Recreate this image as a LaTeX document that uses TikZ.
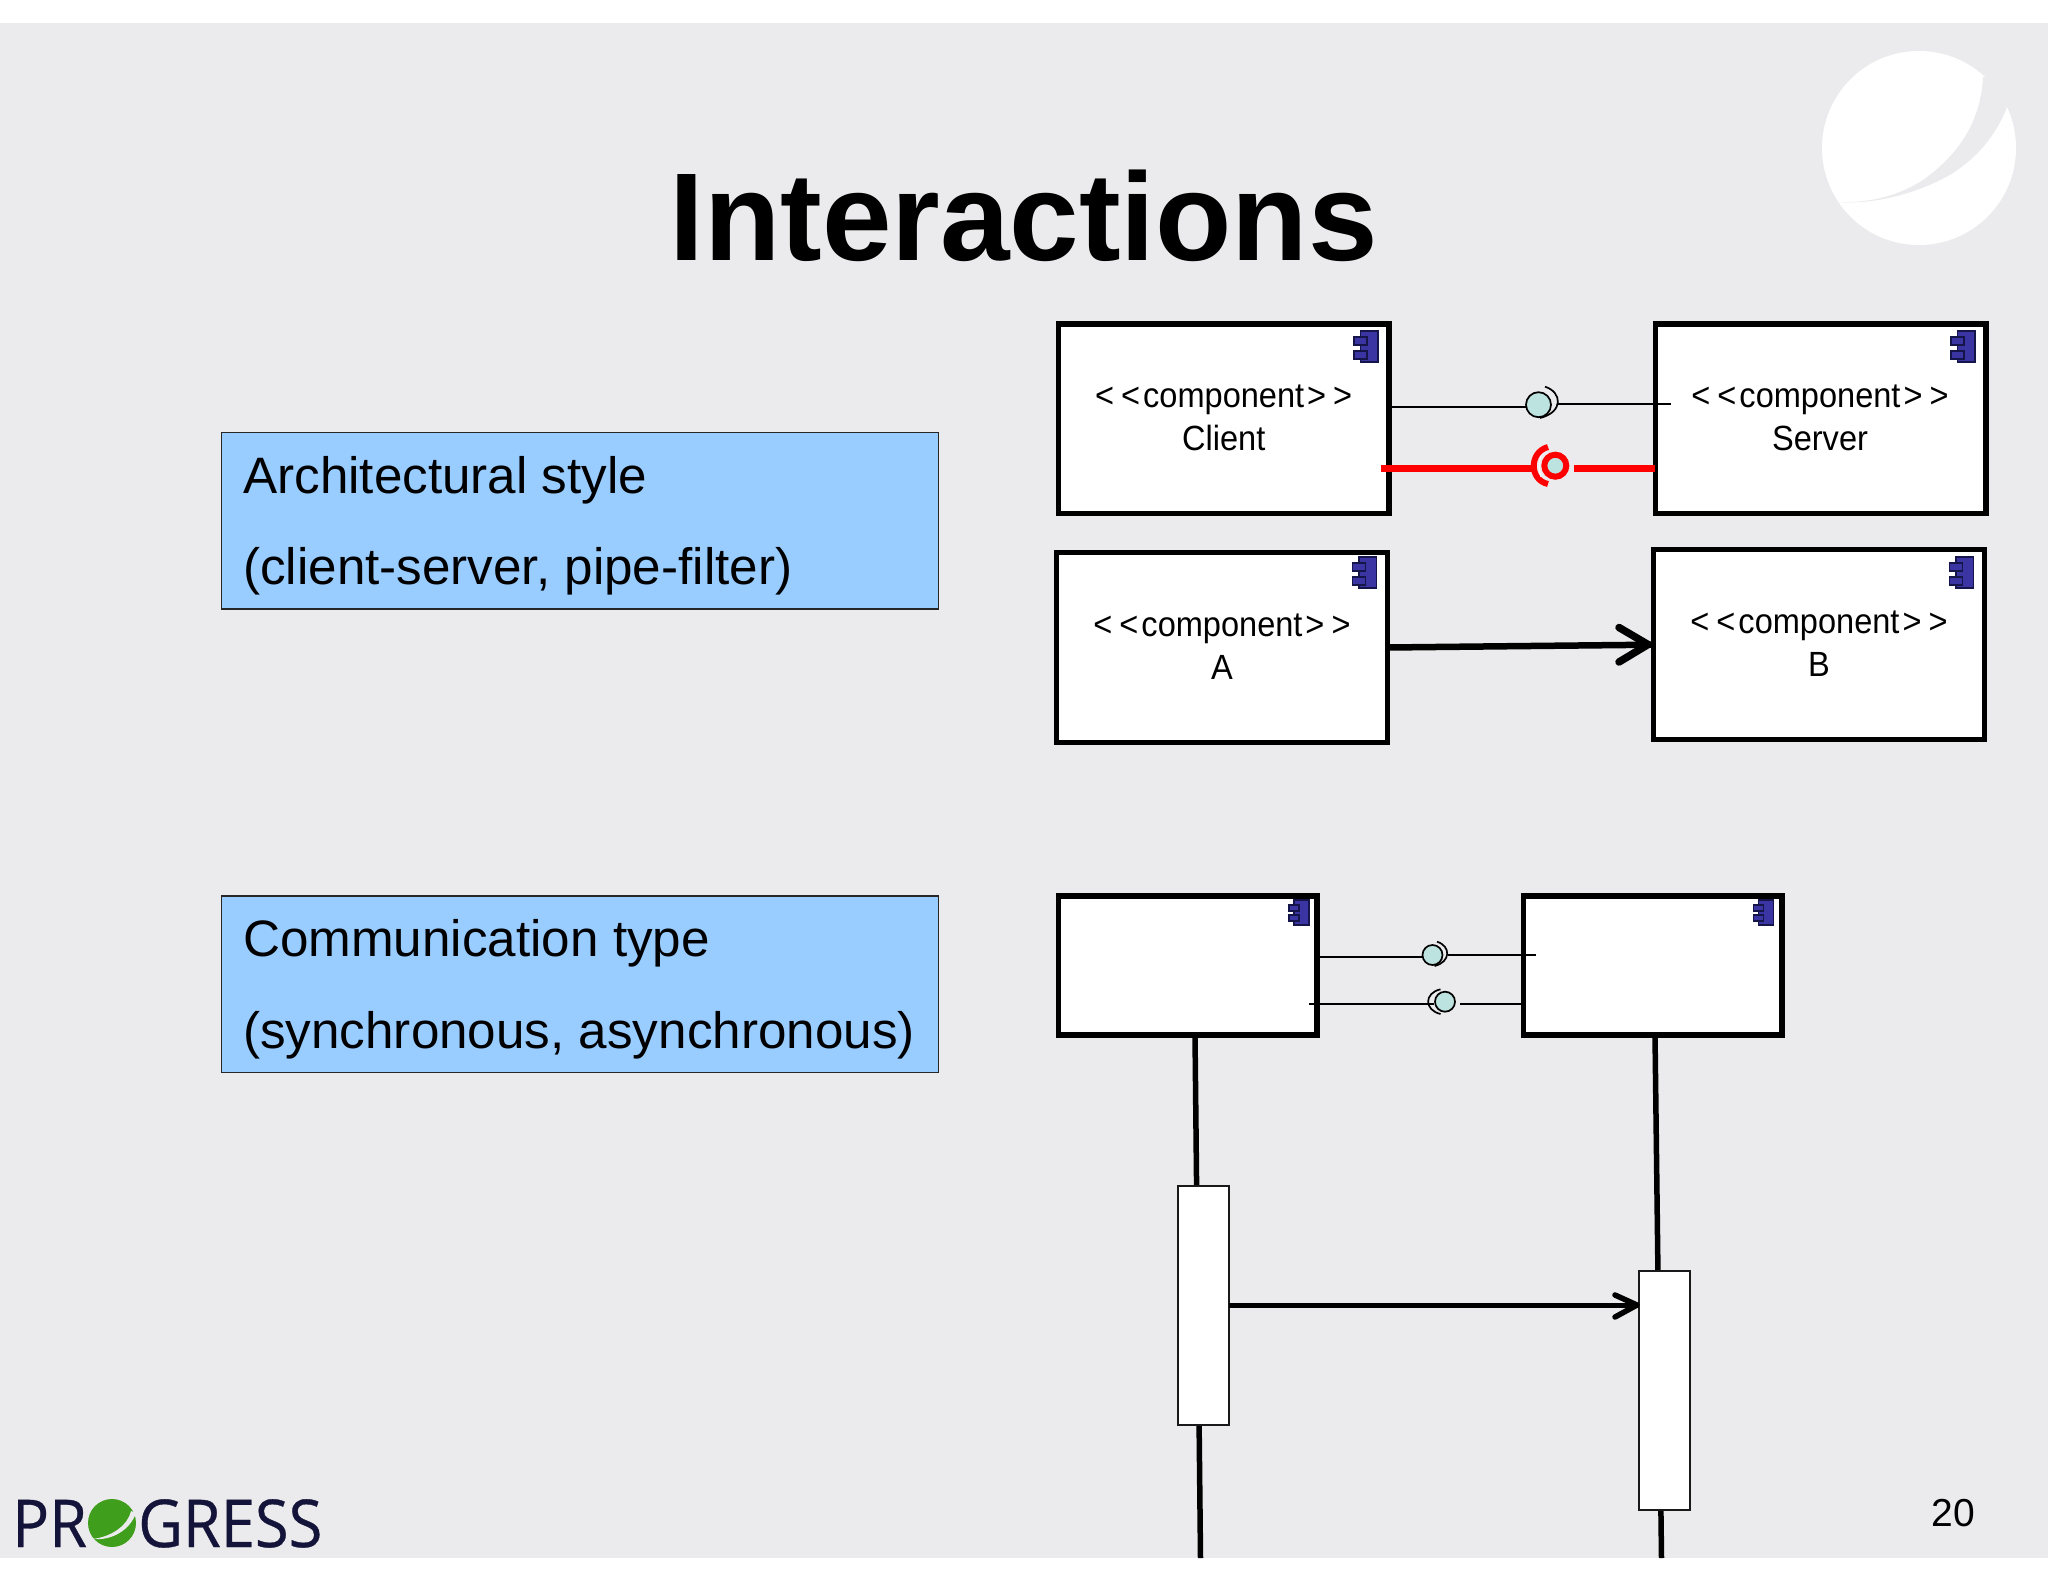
\documentclass[tikz,border=0pt]{standalone}
\usepackage{fontspec}
\setmainfont{Liberation Sans}
\newfontfamily\logofont[FakeStretch=0.93,FakeBold=0.5]{Open Sans}
\newfontfamily\cmpfont[FakeStretch=0.93]{Liberation Sans}
\definecolor{slidebg}{HTML}{EBEBED}
\definecolor{stylebg}{HTML}{99CCFF}
\definecolor{iconblue}{HTML}{3A35A3}
\definecolor{iconline}{HTML}{15154A}
\definecolor{balltint}{HTML}{BCE3E0}
\definecolor{logoink}{HTML}{14143A}
\definecolor{logogreen}{HTML}{3F9E1C}
\newcommand{\compicon}[2]{%
  \begin{scope}[shift={(#1,#2)}]
    \filldraw[iconpart] (6.5,0) rectangle (24,31);
    \filldraw[iconpart] (0,6) rectangle (13,14);
    \filldraw[iconpart] (0,20) rectangle (13,28);
  \end{scope}}
\newcommand{\compiconsmall}[2]{%
  \begin{scope}[shift={(#1,#2)}]
    \filldraw[iconpart] (5,0) rectangle (20,25);
    \filldraw[iconpart] (0,5) rectangle (10,11);
    \filldraw[iconpart] (0,15) rectangle (10,21);
  \end{scope}}
\newcommand{\cmptext}{<\kern7pt<\kern3pt component\kern3pt>\kern7pt>}
\tikzset{
  comp/.style={draw=black,fill=white,line width=5.5pt,minimum width=#1,inner sep=0pt,outer sep=0pt,rectangle},
  stylebox/.style={draw=black!85,line width=1.5pt,fill=stylebg,minimum width=717pt,minimum height=176.5pt,inner sep=0pt,outer sep=0pt},
  styletext/.style={font=\fontsize{51.2}{51.2}\selectfont,anchor=base west,inner sep=0pt},
  cmplabel/.style={font=\cmpfont\fontsize{35}{35}\selectfont,inner sep=0pt},
  iconpart/.style={fill=iconblue,draw=iconline,line width=1.2pt},
  thin link/.style={draw=black,line width=1.7pt},
  ball/.style={circle,draw=black,line width=1.7pt,fill=balltint,minimum size=#1,inner sep=0pt,outer sep=0pt},
  socket/.style={draw=black,line width=1.7pt},
  redlink/.style={draw=red,line width=6.5pt},
  lifeline/.style={draw=black,line width=5.5pt},
  activation/.style={draw=black!90,line width=1.6pt,fill=white,minimum width=51pt,minimum height=239pt,inner sep=0pt,outer sep=0pt},
  openhead/.style={draw=black,line cap=round,line join=round}
}
\begin{document}
\begin{tikzpicture}[x=1pt,y=-1pt]
\useasboundingbox (0,0) rectangle (2048,1582);
\fill[white] (0,0) rectangle (2048,1582);
\fill[slidebg] (0,22.5) rectangle (2048,1558);
% corner emblem
\fill[white] (1919,148) circle[radius=97];
\fill[slidebg] (1983,77) .. controls (1981,115) and (1965,150) .. (1923,180)
  .. controls (1895,198) and (1865,203) .. (1838,202)
  .. controls (1880,205) and (1925,190) .. (1953,173)
  .. controls (1980,155) and (1995,135) .. (2006,110)
  -- (2012,80) -- cycle;
% title
\node[font=\fontsize{125}{125}\selectfont\bfseries,inner sep=0pt] (title) at (1023.5,216) {Interactions};
% blue boxes
\node[stylebox] (archbox) at (580.2,520.6) {};
\node[styletext] (arch1) at (243,493) {Architectural style};
\node[styletext] (arch2) at (243,584) {(client-server, pipe-filter)};
\node[stylebox] (commbox) at (580.2,984) {};
\node[styletext] (comm1) at (243,956) {Communication type};
\node[styletext] (comm2) at (243,1048) {(synchronous, asynchronous)};
% component boxes
\node[comp=330.5pt,minimum height=189.5pt] (client) at (1223.7,418.7) {};
\node[comp=330.5pt,minimum height=189.5pt] (server) at (1820.6,418.7) {};
\node[comp=331pt,minimum height=190pt] (compa) at (1222.2,647.5) {};
\node[comp=331pt,minimum height=190pt] (compb) at (1819,644.7) {};
\compicon{1354}{331}
\compicon{1951}{331}
\compicon{1352.5}{557}
\compicon{1949.5}{557}
\node[cmplabel] (clientst) at (1223.7,400) {\cmptext};
\node[cmplabel] (clientnm) at (1223.7,438) {Client};
\node[cmplabel] (serverst) at (1820,400) {\cmptext};
\node[cmplabel] (servernm) at (1820,438) {Server};
\node[cmplabel] (ast) at (1222,629) {\cmptext};
\node[cmplabel] (anm) at (1222,667) {A};
\node[cmplabel] (bst) at (1819,626) {\cmptext};
\node[cmplabel] (bnm) at (1819,664) {B};
% client-server interface
\node[ball=25pt] (balla) at (1538.5,404.7) {};
\coordinate (clientport) at (1392,406.7);
\coordinate (serverport) at (1671,404);
\coordinate (socketa) at (1558,404);
\draw[thin link] (clientport) -- (balla.west |- clientport);
\draw[thin link] (socketa) -- (serverport);
\draw[socket] (1545,386.7) .. controls (1562,392) and (1564,412) .. (1540,418);
% red interface
\coordinate (redleft) at (1380.6,468.7);
\coordinate (redright) at (1655,468.7);
\coordinate (redsock) at (1574,468.7);
\draw[redlink] (redleft) -- (1537,468.7);
\draw[redlink] (redsock) -- (redright);
\draw[draw=red,line width=6pt] (1548,447) .. controls (1529,452) and (1529,480) .. (1548,484);
\draw[white,line width=1pt] (1541,456) .. controls (1538.5,462) and (1538.5,470) .. (1541,477);
\node[circle,draw=red,line width=6pt,fill=balltint,minimum size=22pt,inner sep=0pt,outer sep=0pt] (ballb) at (1555.3,465.7) {};
% arrow a-b
\draw[line width=6.5pt] (compa.east) -- (compb.west);
\draw[openhead,line width=7.5pt] (1619,627.5) -- (1648,644.5) -- (1619,662);
% lower boxes
\node[comp=258.5pt,minimum height=139pt] (left) at (1187.5,965.5) {};
\node[comp=258.5pt,minimum height=139pt] (right) at (1652.7,965.5) {};
\compiconsmall{1289}{900}
\compiconsmall{1753.5}{900}
\node[ball=20pt] (ballc) at (1432.5,955) {};
\coordinate (leftport) at (1320,956.7);
\coordinate (rightport) at (1536,955);
\draw[thin link] (leftport) -- (ballc.west |- leftport);
\draw[thin link] (1448,955) -- (rightport);
\draw[socket] (1437,941.7) .. controls (1451,946) and (1451,962) .. (1434.5,966);
\node[ball=20pt] (balld) at (1445,1001.7) {};
\coordinate (leftportb) at (1309,1004.3);
\coordinate (rightportb) at (1520.6,1004.3);
\draw[thin link] (leftportb) -- (1434,1004.3);
\draw[thin link] (1460,1004.3) -- (rightportb);
\draw[socket] (1440.5,989.3) .. controls (1424,993) and (1424,1010) .. (1440.5,1014);
% lifelines
\coordinate (lifeaend) at (1200.5,1558);
\coordinate (lifebend) at (1661.5,1558);
\draw[lifeline] (left.south -| 1195,0) -- (lifeaend);
\draw[lifeline] (right.south -| 1655,0) -- (lifebend);
\node[activation] (acta) at (1203.5,1305.5) {};
\node[activation] (actb) at (1664.5,1390.5) {};
\draw[line width=5pt] (acta.east |- 0,1305) -- (actb.west |- 0,1305);
\draw[openhead,line width=5.5pt] (1615,1295) -- (1637,1305) -- (1615,1317);
% logo
\node[font=\logofont\fontsize{66}{66}\selectfont,text=logoink,anchor=base west,inner sep=0pt] (logopr) at (12,1547) {PR};
\node[font=\logofont\fontsize{66}{66}\selectfont,text=logoink,anchor=base west,inner sep=0pt] (logogr) at (138,1547) {GRESS};
\fill[logogreen] (112,1523) circle[radius=24];
\fill[slidebg] (131,1511) .. controls (128,1525) and (112,1537) .. (92,1539)
  .. controls (112,1541) and (130,1530) .. (136,1513) -- cycle;
% page number
\node[font=\fontsize{39}{39}\selectfont,inner sep=0pt] (pageno) at (1953,1513) {20};
\end{tikzpicture}
\end{document}
